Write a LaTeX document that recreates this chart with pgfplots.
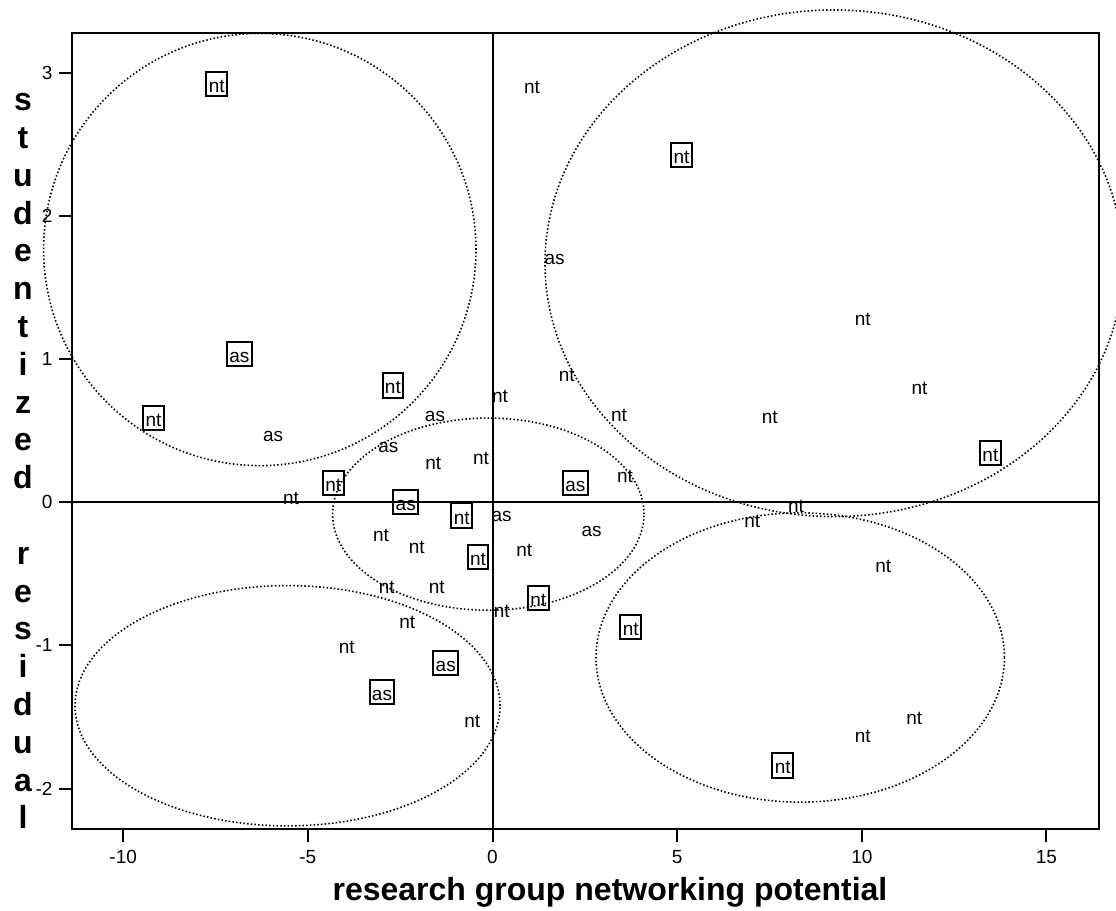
\documentclass[border=0pt]{standalone}
\usepackage{pgfplots}
\pgfplotsset{compat=1.18}
\usepackage{pgfplotstable}
\usepackage{fontspec}
\setmainfont{Liberation Sans}

\pgfplotstableread{
x y lab
-7.465 2.920 nt
5.118 2.425 nt
-6.856 1.036 as
-2.697 0.815 nt
-9.177 0.588 nt
13.482 0.343 nt
-4.311 0.134 nt
-2.350 0.000 as
-0.834 -0.094 nt
2.242 0.134 as
-0.393 -0.382 nt
1.240 -0.669 nt
3.742 -0.874 nt
-1.267 -1.122 as
-2.992 -1.327 as
7.858 -1.839 nt
}\boxedpts

\pgfplotstableread{
x y lab
1.072 2.897 nt
1.684 1.692 as
10.027 1.278 nt
11.560 0.797 nt
2.012 0.883 nt
0.203 0.738 nt
-1.557 0.595 as
3.425 0.604 nt
7.509 0.588 nt
-5.938 0.459 as
-2.822 0.385 as
-1.603 0.269 nt
-0.311 0.308 nt
3.588 0.176 nt
-5.456 0.029 nt
0.249 -0.103 as
2.686 -0.208 as
-3.019 -0.234 nt
-2.053 -0.313 nt
0.861 -0.336 nt
8.218 -0.029 nt
7.035 -0.138 nt
-2.865 -0.599 nt
-1.511 -0.599 nt
0.249 -0.762 nt
-2.307 -0.843 nt
10.582 -0.452 nt
-3.948 -1.017 nt
-0.547 -1.530 nt
11.421 -1.513 nt
10.024 -1.634 nt
}\plainpts

\tikzset{ell/.style={black, line width=0.8pt, dash pattern=on 0.75pt off 1.1pt}}

\begin{document}
\begin{tikzpicture}
\begin{axis}[
  scale only axis, width=513.25pt, height=397.85pt,
  xmin=-11.373, xmax=16.423, ymin=-2.280, ymax=3.277,
  clip=false,
  axis line style={line width=1pt, black},
  xtick={-10,-5,0,5,10,15}, ytick={-2,-1,0,1,2,3},
  xtick pos=left, ytick pos=left,
  tick align=outside, major tick length=6.5pt,
  major tick style={line width=1pt, black},
  ticklabel style={font=\fontsize{9.5}{11}\selectfont},
  /pgf/number format/assume math mode=true,
  xticklabel style={yshift=-1pt},
]
% zero lines
\addplot[black, line width=1pt, forget plot] coordinates {(0,-2.280) (0,3.277)};
\addplot[black, line width=1pt, forget plot] coordinates {(-11.373,0) (16.423,0)};

% ellipses
\draw[ell] (axis cs:-6.301,1.764) ellipse [x radius=5.854, y radius=1.509];
\draw[ell] (axis cs:9.247,1.668) ellipse [x radius=7.826, y radius=1.769];
\draw[ell] (axis cs:-0.114,-0.084) ellipse [x radius=4.216, y radius=0.671];
\draw[ell] (axis cs:-5.551,-1.422) ellipse [x radius=5.754, y radius=0.839];
\draw[ell] (axis cs:8.332,-1.085) ellipse [x radius=5.529, y radius=1.010];

% plain labels
\addplot[draw=none, mark=none, forget plot,
  nodes near coords, point meta=explicit symbolic,
  every node near coord/.append style={anchor=center, text=black, inner sep=0pt,
    font=\fontsize{9.5}{11}\selectfont}]
  table[x=x, y=y, meta=lab] {\plainpts};

% boxed labels
\addplot[draw=none, mark=none, forget plot,
  nodes near coords, point meta=explicit symbolic,
  every node near coord/.append style={anchor=center, text=black, draw=black,
    line width=1pt, inner xsep=1.2pt, inner ysep=0.8pt, text height=9.5pt, text depth=1pt,
    font=\fontsize{9.5}{11}\selectfont}]
  table[x=x, y=y, meta=lab] {\boxedpts};

% axis labels
\node[font=\fontsize{16}{19}\selectfont\bfseries, anchor=center]
  at (axis description cs:0.5236,-0.0804) {research group networking potential};
\node[font=\fontsize{16}{18.9}\selectfont\bfseries, align=center, inner sep=0pt, anchor=center]
  at (axis cs:-12.713,0.279)
  {\strut s\\\strut t\\\strut u\\\strut d\\\strut e\\\strut n\\\strut t\\\strut i\\\strut z\\\strut e\\\strut d\\\strut\\\strut r\\\strut e\\\strut s\\\strut i\\\strut d\\\strut u\\\strut a\\\strut l};

\coordinate (bbA) at (axis cs:-13.336,-2.8507);
\coordinate (bbB) at (axis cs:16.883,3.5066);
\end{axis}
\pgfresetboundingbox
\path[use as bounding box] (bbA) rectangle (bbB);
\end{tikzpicture}
\end{document}
